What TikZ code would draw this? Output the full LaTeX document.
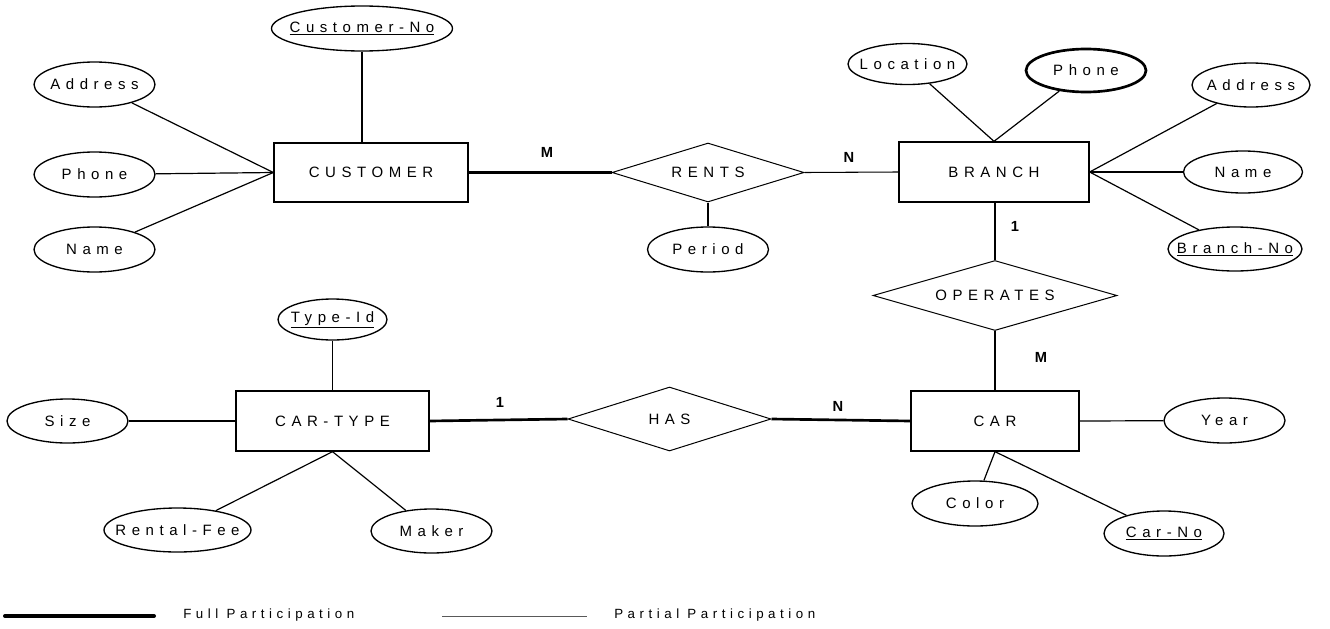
\documentclass[tikz,border=0pt]{standalone}
\usepackage{fontspec}
\setmainfont{Liberation Sans}
\newfontfamily\erfont{Liberation Sans}[LetterSpace=37]
\newfontfamily\legfont{Liberation Sans}[LetterSpace=34]
\usetikzlibrary{shapes.geometric}
\newcommand{\erl}[1]{{\erfont\fontsize{11.25}{13}\selectfont #1}}
\newcommand{\erla}[1]{\makebox[0pt][c]{\erfont\fontsize{11.25}{13}\selectfont #1}}
\newcommand{\erlu}[1]{\makebox[0pt][c]{\erfont\fontsize{11.25}{13}\selectfont\underline{#1}}}
\begin{document}
\begin{tikzpicture}[x=0.75pt,y=-0.75pt,
  entity/.style={draw,line width=1pt,rectangle,inner sep=0pt,minimum width={#1*0.75pt}},
  rel/.style={draw,line width=0.75pt,diamond,inner sep=0pt},
  attr/.style={draw,line width=1pt,ellipse,inner sep=0pt},
  card/.style={font=\bfseries\fontsize{11}{13}\selectfont,inner sep=0pt},
  conn/.style={line width=0.9pt},
  full/.style={line width=2pt},
  part/.style={line width=0.8pt},
  legtext/.style={font=\legfont\fontsize{10}{12}\selectfont,anchor=west,inner sep=0pt}
]
\useasboundingbox (0,0) rectangle (1330,628);

% entities
\node[entity=194,minimum height={59*0.75pt}] (cust) at (371,172.5) {\erl{CUSTOMER}};
\node[entity=190,minimum height={60*0.75pt}] (branch) at (994,172) {\erl{BRANCH}};
\node[entity=193,minimum height={60*0.75pt}] (ct) at (332.5,421) {\erl{CAR-TYPE}};
\node[entity=168,minimum height={60*0.75pt}] (car) at (995,421) {\erl{CAR}};

% relationships
\node[rel,shape aspect=3.25,minimum width={192*0.75pt},minimum height={59*0.75pt}] (rents) at (708,172.5) {\erl{RENTS}};
\node[rel,shape aspect=3.49,minimum width={244*0.75pt},minimum height={70*0.75pt}] (ops) at (995,295.5) {\erl{OPERATES}};
\node[rel,shape aspect=3.17,minimum width={203*0.75pt},minimum height={64*0.75pt}] (has) at (669.5,419) {\erl{HAS}};

% customer attributes
\node[attr,minimum width={181*0.75pt},minimum height={45*0.75pt}] (cno) at (362,28.5) {\erlu{Customer-No}};
\node[attr,minimum width={121*0.75pt},minimum height={45*0.75pt}] (addrL) at (94.5,84.5) {\erla{Address}};
\node[attr,minimum width={121*0.75pt},minimum height={45*0.75pt}] (phoneL) at (94.5,174.5) {\erla{Phone}};
\node[attr,minimum width={121*0.75pt},minimum height={45*0.75pt}] (nameL) at (94.5,249.5) {\erla{Name}};
\node[attr,minimum width={121*0.75pt},minimum height={45*0.75pt}] (period) at (708,249.5) {\erla{Period}};

% branch attributes
\node[attr,minimum width={119*0.75pt},minimum height={41*0.75pt}] (loc) at (907.5,64) {\erla{Location}};
\node[attr,line width=2pt,minimum width={120*0.75pt},minimum height={43*0.75pt}] (phoneB) at (1086,70.5) {\erla{Phone}};
\node[attr,minimum width={118*0.75pt},minimum height={44*0.75pt}] (addrB) at (1251,85) {\erla{Address}};
\node[attr,minimum width={119*0.75pt},minimum height={42*0.75pt}] (nameB) at (1243,172) {\erla{Name}};
\node[attr,minimum width={134*0.75pt},minimum height={44*0.75pt}] (bno) at (1235,249) {\erlu{Branch-No}};

% car-type attributes
\node[attr,minimum width={109*0.75pt},minimum height={41*0.75pt}] (tid) at (332.5,319.5) {\erlu{Type-Id}};
\node[attr,minimum width={121*0.75pt},minimum height={44*0.75pt}] (size) at (67.5,421) {\erla{Size}};
\node[attr,minimum width={147*0.75pt},minimum height={44*0.75pt}] (rfee) at (177.5,530) {\erla{Rental-Fee}};
\node[attr,minimum width={121*0.75pt},minimum height={44*0.75pt}] (maker) at (431.5,531) {\erla{Maker}};

% car attributes
\node[attr,minimum width={121*0.75pt},minimum height={45*0.75pt}] (year) at (1224.5,420.5) {\erla{Year}};
\node[attr,minimum width={126*0.75pt},minimum height={45*0.75pt}] (color) at (975,503.5) {\erla{Color}};
\node[attr,minimum width={120*0.75pt},minimum height={45*0.75pt}] (carno) at (1164,533.5) {\erlu{Car-No}};

% attribute connectors
\draw[conn] (cno.south) -- (cno.south |- cust.north);
\draw[conn] (addrL) -- (cust.west);
\draw[conn] (phoneL) -- (cust.west);
\draw[conn] (nameL) -- (cust.west);
\draw[line width=1.5pt] (rents.south) -- (period.north);
\draw[conn] (loc) -- (branch.north);
\draw[conn] (phoneB) -- (branch.north);
\draw[conn] (addrB) -- (branch.east);
\draw[conn] (nameB) -- (branch.east);
\draw[conn] (bno) -- (branch.east);
\draw[conn] (tid.south) -- (tid.south |- ct.north);
\draw[conn] (size) -- (ct.west);
\draw[conn] (rfee) -- (ct.south);
\draw[conn] (maker) -- (ct.south);
\draw[conn] (year) -- (car.east);
\draw[conn] (color) -- (car.south);
\draw[conn] (carno) -- (car.south);

% relationship connectors
\draw[full] (cust.east) -- (rents.west);
\draw[part] (rents.east) -- (branch.west);
\draw[full] (branch.south -| ops.north) -- (ops.north);
\draw[full] (ops.south) -- (car.north);
\draw[full] (ct.east) -- (has.west);
\draw[full] (has.east) -- (car.west);

% cardinalities
\node[card] (c1) at (547,152) {M};
\node[card] (c2) at (849,157) {N};
\node[card] (c3) at (1015,226) {1};
\node[card] (c4) at (1041,357) {M};
\node[card] (c5) at (500,402) {1};
\node[card] (c6) at (838,406) {N};

% legend
\coordinate (lf1) at (5,616);
\coordinate (lf2) at (154,616);
\coordinate (lp1) at (442,616);
\coordinate (lp2) at (587,616);
\draw[line width=3pt,line cap=round] (lf1) -- (lf2);
\node[legtext] (lft) at (183,615) {Full Participation};
\draw[line width=0.75pt,gray!70!black] (lp1) -- (lp2);
\node[legtext] (lpt) at (614,615) {Partial Participation};
\end{tikzpicture}
\end{document}
